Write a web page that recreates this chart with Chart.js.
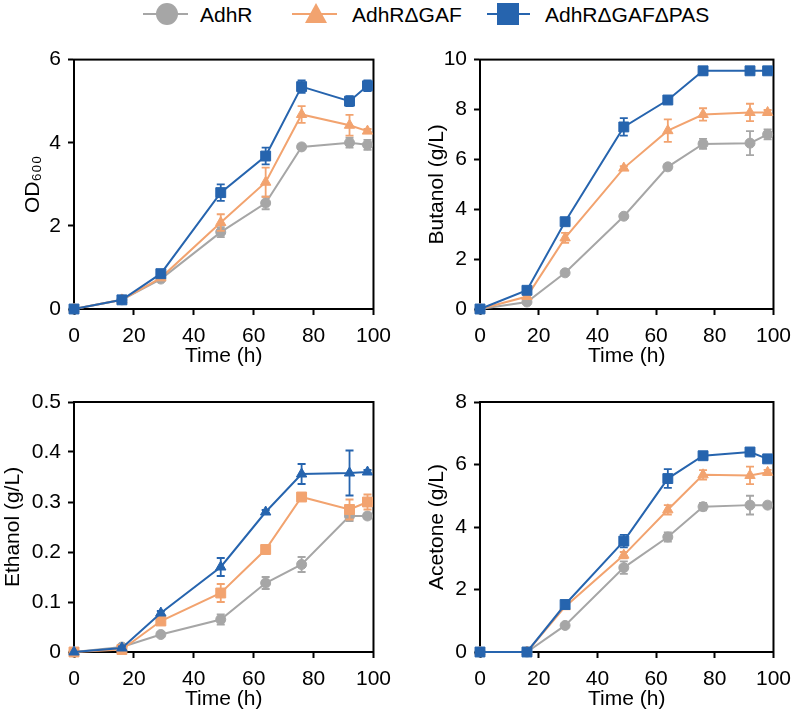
<!DOCTYPE html>
<html>
<head>
<meta charset="utf-8">
<script src="https://cdn.jsdelivr.net/npm/chart.js@4.4.1/dist/chart.umd.min.js"></script>
<style>
  body{margin:0;width:800px;height:715px;background:#fff;position:relative;overflow:hidden;
       font-family:'Liberation Sans',Arial,sans-serif;color:#000}
  .panel{position:absolute}
  .lgLine{position:absolute;top:13px;height:2px}
  .lgMark{position:absolute}
  .lgText{position:absolute;top:0;line-height:30px;font-size:21px;white-space:nowrap}
</style>
</head>
<body>
<!-- legend -->
<div class="lgLine" style="left:143px;width:45px;background:#a6a6a6"></div>
<div class="lgMark" style="left:156px;top:3px;width:22px;height:22px;border-radius:50%;background:#a6a6a6"></div>
<div class="lgText" style="left:200px">AdhR</div>
<div class="lgLine" style="left:292px;width:45px;background:#f2a36f"></div>
<div class="lgMark" style="left:305px;top:3px;width:22px;height:20px;background:#f2a36f;clip-path:polygon(50% 0,100% 100%,0 100%)"></div>
<div class="lgText" style="left:352px">AdhRΔGAF</div>
<div class="lgLine" style="left:487px;width:43px;background:#2664ae"></div>
<div class="lgMark" style="left:497px;top:3px;width:22px;height:22px;background:#2664ae"></div>
<div class="lgText" style="left:545px">AdhRΔGAFΔPAS</div>

<div class="panel" style="left:0;top:40px"><canvas id="c1" width="400" height="330"></canvas></div>
<div class="panel" style="left:400px;top:40px"><canvas id="c2" width="400" height="330"></canvas></div>
<div class="panel" style="left:0;top:380px"><canvas id="c3" width="400" height="335"></canvas></div>
<div class="panel" style="left:400px;top:380px"><canvas id="c4" width="400" height="335"></canvas></div>

<script>
// sampling times (h)
const hours = [0, 16, 29, 49, 64, 76, 92, 98];
const xTicks = [0, 20, 40, 60, 80, 100];

// OD600
const odAdhR    = [0, 0.22, 0.72, 1.85, 2.55, 3.90, 4.00, 3.95];
const odAdhRErr = [0, 0.03, 0.03, 0.12, 0.15, 0.05, 0.12, 0.12];
const odGaf     = [0, 0.22, 0.75, 2.08, 3.05, 4.68, 4.42, 4.28];
const odGafErr  = [0, 0.03, 0.03, 0.20, 0.35, 0.20, 0.25, 0.05];
const odPas     = [0, 0.22, 0.85, 2.80, 3.68, 5.35, 5.00, 5.37];
const odPasErr  = [0, 0.03, 0.05, 0.20, 0.20, 0.15, 0.12, 0.13];

// Butanol (g/L)
const buAdhR    = [0, 0.28, 1.45, 3.72, 5.70, 6.62, 6.65, 7.00];
const buAdhRErr = [0, 0.05, 0.08, 0.08, 0.10, 0.20, 0.48, 0.20];
const buGaf     = [0, 0.50, 2.85, 5.65, 7.15, 7.80, 7.88, 7.88];
const buGafErr  = [0, 0.05, 0.20, 0.08, 0.45, 0.25, 0.35, 0.10];
const buPas     = [0, 0.75, 3.50, 7.30, 8.38, 9.55, 9.55, 9.55];
const buPasErr  = [0, 0.10, 0.10, 0.35, 0.10, 0.15, 0.05, 0.05];

// Ethanol (g/L)
const etAdhR    = [0, 0.010, 0.035, 0.065, 0.138, 0.175, 0.272, 0.272];
const etAdhRErr = [0, 0.003, 0.004, 0.010, 0.012, 0.015, 0.010, 0.005];
const etGaf     = [0, 0.005, 0.062, 0.118, 0.205, 0.310, 0.285, 0.300];
const etGafErr  = [0, 0.003, 0.004, 0.018, 0.005, 0.005, 0.020, 0.015];
const etPas     = [0, 0.008, 0.078, 0.170, 0.280, 0.356, 0.358, 0.360];
const etPasErr  = [0, 0.003, 0.004, 0.018, 0.004, 0.020, 0.045, 0.004];

// Acetone (g/L)
const acAdhR    = [0, 0, 0.85, 2.70, 3.68, 4.65, 4.70, 4.70];
const acAdhRErr = [0, 0, 0.05, 0.20, 0.15, 0.12, 0.30, 0.05];
const acGaf     = [0, 0, 1.45, 3.10, 4.55, 5.67, 5.65, 5.75];
const acGafErr  = [0, 0, 0.05, 0.10, 0.15, 0.15, 0.28, 0.08];
const acPas     = [0, 0, 1.52, 3.55, 5.55, 6.28, 6.40, 6.18];
const acPasErr  = [0, 0, 0.05, 0.20, 0.30, 0.10, 0.05, 0.05];

const GRAY = '#a6a6a6', ORANGE = '#f2a36f', BLUE = '#2664ae';
const FONT = {family:"'Liberation Sans', Arial, sans-serif", size:21};

// error bars, drawn under each dataset's line/markers
const errorBars = {
  id:'errorBars',
  beforeDatasetDraw(chart, args){
    const ds = chart.data.datasets[args.index];
    if(!ds.errors) return;
    const ys = chart.scales.y, ctx = chart.ctx;
    ctx.save();
    ctx.strokeStyle = ds.borderColor;
    ctx.lineWidth = 1.8;
    args.meta.data.forEach((pt,i)=>{
      const e = ds.errors[i];
      if(!e) return;
      const v = ds.data[i].y;
      const top = ys.getPixelForValue(v+e), bot = ys.getPixelForValue(v-e);
      ctx.beginPath();
      ctx.moveTo(pt.x, top); ctx.lineTo(pt.x, bot);
      ctx.moveTo(pt.x-4, top); ctx.lineTo(pt.x+4, top);
      ctx.moveTo(pt.x-4, bot); ctx.lineTo(pt.x+4, bot);
      ctx.stroke();
    });
    ctx.restore();
  }
};

// closed box round the plot area
const frame = {
  id:'frame',
  beforeDatasetsDraw(chart){
    const a = chart.chartArea, ctx = chart.ctx;
    ctx.save();
    ctx.strokeStyle = '#000'; ctx.lineWidth = 2;
    ctx.strokeRect(a.left, a.top, a.right-a.left, a.bottom-a.top);
    ctx.restore();
  }
};

function series(label, vals, errs, color, shape, order){
  const r = shape==='rect' ? 7 : (shape==='triangle' ? 6 : 5);
  return {
    label, errors: errs, order,
    data: hours.map((h,i)=>({x:h, y:vals[i]})),
    borderColor: color, backgroundColor: color, borderWidth: 2,
    pointStyle: shape, pointRadius: r, pointBackgroundColor: color,
    pointBorderColor: color, pointBorderWidth: 1, clip: false, tension: 0
  };
}

function axisCommon(){
  return {
    grid:{drawOnChartArea:false, drawTicks:true, tickLength:6, tickWidth:2, tickColor:'#000'},
    border:{display:true, color:'#000', width:2}
  };
}

function panel(id, o){
  new Chart(document.getElementById(id), {
    type:'line',
    data:{datasets:o.datasets},
    options:{
      responsive:false, animation:false,
      layout:{padding:{left:0, right:o.padR, top:o.padT, bottom:o.padB}},
      plugins:{legend:{display:false}, tooltip:{enabled:false}},
      scales:{
        x:Object.assign(axisCommon(), {
          type:'linear', min:0, max:100,
          afterBuildTicks: s=>{ s.ticks = xTicks.map(v=>({value:v})); },
          ticks:{color:'#000', font:FONT, padding:9, maxRotation:0},
          title:{display:true, text:'Time (h)', color:'#000', font:FONT, padding:{top:0,bottom:0}},
          afterFit: s=>{ s.height = 60; }
        }),
        y:Object.assign(axisCommon(), {
          type:'linear', min:0, max:o.yMax,
          ticks:{stepSize:o.step, color:'#000', font:FONT, padding:7},
          title:{display:true, text:o.yTitle, color:'#000', font:FONT, padding:{top:o.titlePad,bottom:0}},
          afterFit: s=>{ s.width = o.axisW; }
        })
      }
    },
    plugins:[frame, errorBars]
  });
}

panel('c1', {yMax:6, step:2, yTitle:'OD₆₀₀', axisW:74, padR:25, padT:19, padB:1, titlePad:21,
  datasets:[series('AdhR', odAdhR, odAdhRErr, GRAY, 'circle', 2),
            series('AdhRΔGAF', odGaf, odGafErr, ORANGE, 'triangle', 1),
            series('AdhRΔGAFΔPAS', odPas, odPasErr, BLUE, 'rect', 0)]});

panel('c2', {yMax:10, step:2, yTitle:'Butanol (g/L)', axisW:80, padR:20, padT:19, padB:1, titlePad:25,
  datasets:[series('AdhR', buAdhR, buAdhRErr, GRAY, 'circle', 2),
            series('AdhRΔGAF', buGaf, buGafErr, ORANGE, 'triangle', 1),
            series('AdhRΔGAFΔPAS', buPas, buPasErr, BLUE, 'rect', 0)]});

// markers are swapped in the ethanol panel of the original
panel('c3', {yMax:0.5, step:0.1, yTitle:'Ethanol (g/L)', axisW:74, padR:25, padT:22, padB:3, titlePad:1,
  datasets:[series('AdhR', etAdhR, etAdhRErr, GRAY, 'circle', 2),
            series('AdhRΔGAF', etGaf, etGafErr, ORANGE, 'rect', 1),
            series('AdhRΔGAFΔPAS', etPas, etPasErr, BLUE, 'triangle', 0)]});

panel('c4', {yMax:8, step:2, yTitle:'Acetone (g/L)', axisW:80, padR:20, padT:22, padB:3, titlePad:25,
  datasets:[series('AdhR', acAdhR, acAdhRErr, GRAY, 'circle', 2),
            series('AdhRΔGAF', acGaf, acGafErr, ORANGE, 'triangle', 1),
            series('AdhRΔGAFΔPAS', acPas, acPasErr, BLUE, 'rect', 0)]});
</script>
</body>
</html>
